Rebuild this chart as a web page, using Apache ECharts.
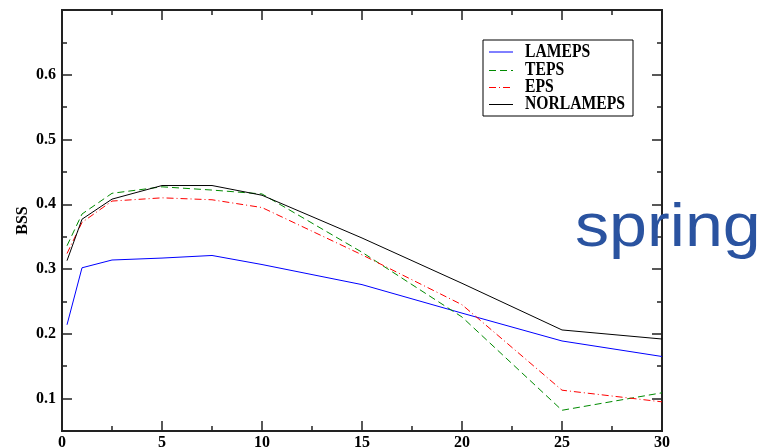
<!DOCTYPE html>
<html><head><meta charset="utf-8">
<script src="https://cdn.jsdelivr.net/npm/echarts@6/dist/echarts.min.js"></script>
<style>html,body{margin:0;padding:0;background:#fff}#c{width:765px;height:447px}</style>
</head><body><div id="c"></div>
<script>
const xValues = [0.25, 1, 2.5, 5, 7.5, 10, 15, 20, 25, 30];
const lameps    = [0.214, 0.302, 0.314, 0.317, 0.321, 0.307, 0.276, 0.232, 0.189, 0.165];
const teps      = [0.336, 0.385, 0.417, 0.427, 0.422, 0.416, 0.326, 0.226, 0.082, 0.109];
const eps       = [0.324, 0.372, 0.405, 0.410, 0.407, 0.395, 0.322, 0.245, 0.113, 0.095];
const norlameps = [0.313, 0.377, 0.408, 0.429, 0.429, 0.414, 0.348, 0.278, 0.206, 0.192];
const seriesNames = ['LAMEPS', 'TEPS', 'EPS', 'NORLAMEPS'];
const yMajorTicks = [0.1, 0.2, 0.3, 0.4, 0.5, 0.6];
const yMinorTicks = [0.15, 0.25, 0.35, 0.45, 0.55, 0.65];
const xTickLabels = [0, 5, 10, 15, 20, 25, 30];
const yAxisTitle = 'BSS';
const annotation = 'spring';

const pair = arr => xValues.map((x, i) => [x, arr[i]]);
const serif = '"Liberation Serif", "Times New Roman", serif';
const axisCol = '#222';
const seriesStyles = [
  { color: '#0000ff', dash: null, echType: 'solid' },
  { color: '#008a00', dash: [7, 4], echType: [7, 4] },
  { color: '#ff0000', dash: [7, 3, 1, 3], echType: [7, 3, 1, 3] },
  { color: '#000000', dash: null, echType: 'solid' }
];

function yAx(opts) {
  return Object.assign({
    type: 'value', min: 0.05, max: 0.7, gridIndex: 0,
    axisLine: { show: true, onZero: false, lineStyle: { color: axisCol, width: 2 } },
    splitLine: { show: false },
    axisTick: { show: true, inside: true, length: 10, lineStyle: { color: axisCol, width: 1.5 }, customValues: yMajorTicks },
    axisLabel: { show: false }
  }, opts);
}
function xAx(opts) {
  return Object.assign({
    type: 'value', min: 0, max: 30, interval: 5,
    axisLine: { show: true, onZero: false, lineStyle: { color: axisCol, width: 2 } },
    splitLine: { show: false },
    axisTick: { show: true, inside: true, length: 10, lineStyle: { color: axisCol, width: 1.5 } },
    minorTick: { show: true, splitNumber: 2, length: 5, lineStyle: { color: axisCol, width: 1.5 } },
    axisLabel: { show: false }
  }, opts);
}

// legend drawn as graphic elements (box, sample lines, texts)
const legendGraphics = [{
  type: 'rect', shape: { x: 483, y: 40, width: 150, height: 76 },
  style: { fill: '#fff', stroke: '#000', lineWidth: 1 }, z: 90
}];
const legendRowY = [52, 70.5, 87.5, 104.5];
seriesNames.forEach((n, i) => {
  legendGraphics.push({
    type: 'line', shape: { x1: 489, y1: legendRowY[i], x2: 513, y2: legendRowY[i] },
    style: { stroke: seriesStyles[i].color, lineWidth: 1, lineDash: seriesStyles[i].dash }, z: 91
  });
  legendGraphics.push({
    type: 'text', x: 525, y: legendRowY[i], scaleX: 0.87, z: 91,
    style: { text: n, fill: '#000', font: 'bold 18px ' + serif, align: 'left', verticalAlign: 'middle' }
  });
});

const chart = echarts.init(document.getElementById('c'), null, { renderer: 'canvas' });
chart.setOption({
  animation: false,
  backgroundColor: '#fff',
  grid: { left: 62, right: 103, top: 10, bottom: 16, containLabel: false, outerBoundsMode: 'none' },
  xAxis: [
    xAx({ position: 'bottom', axisLabel: { show: true, customValues: xTickLabels, margin: 4, color: '#000', fontFamily: serif, fontWeight: 'bold', fontSize: 16 } }),
    xAx({ position: 'top' })
  ],
  yAxis: [
    yAx({ position: 'left', name: yAxisTitle, nameLocation: 'middle', nameGap: 31, nameRotate: 90, nameMoveOverlap: false,
          nameTextStyle: { color: '#000', fontFamily: serif, fontWeight: 'bold', fontSize: 16 },
          axisLabel: { show: true, customValues: yMajorTicks, margin: 6, color: '#000', fontFamily: serif, fontWeight: 'bold', fontSize: 16, formatter: v => v.toFixed(1) } }),
    yAx({ position: 'left', axisTick: { show: true, inside: true, length: 5, lineStyle: { color: axisCol, width: 1.5 }, customValues: yMinorTicks } }),
    yAx({ position: 'right' }),
    yAx({ position: 'right', axisTick: { show: true, inside: true, length: 5, lineStyle: { color: axisCol, width: 1.5 }, customValues: yMinorTicks } })
  ],
  graphic: legendGraphics.concat([{
    type: 'text', x: 575, y: 228.5, scaleX: 1.1, z: 100,
    style: { text: annotation, fill: '#2a53a0', font: '62px "Liberation Sans", Arial, sans-serif', align: 'left', verticalAlign: 'middle' }
  }]),
  series: [lameps, teps, eps, norlameps].map((arr, i) => ({
    name: seriesNames[i], type: 'line', data: pair(arr), showSymbol: false, symbol: 'none',
    color: seriesStyles[i].color,
    lineStyle: { color: seriesStyles[i].color, width: 1, type: seriesStyles[i].echType }
  }))
});
</script></body></html>
